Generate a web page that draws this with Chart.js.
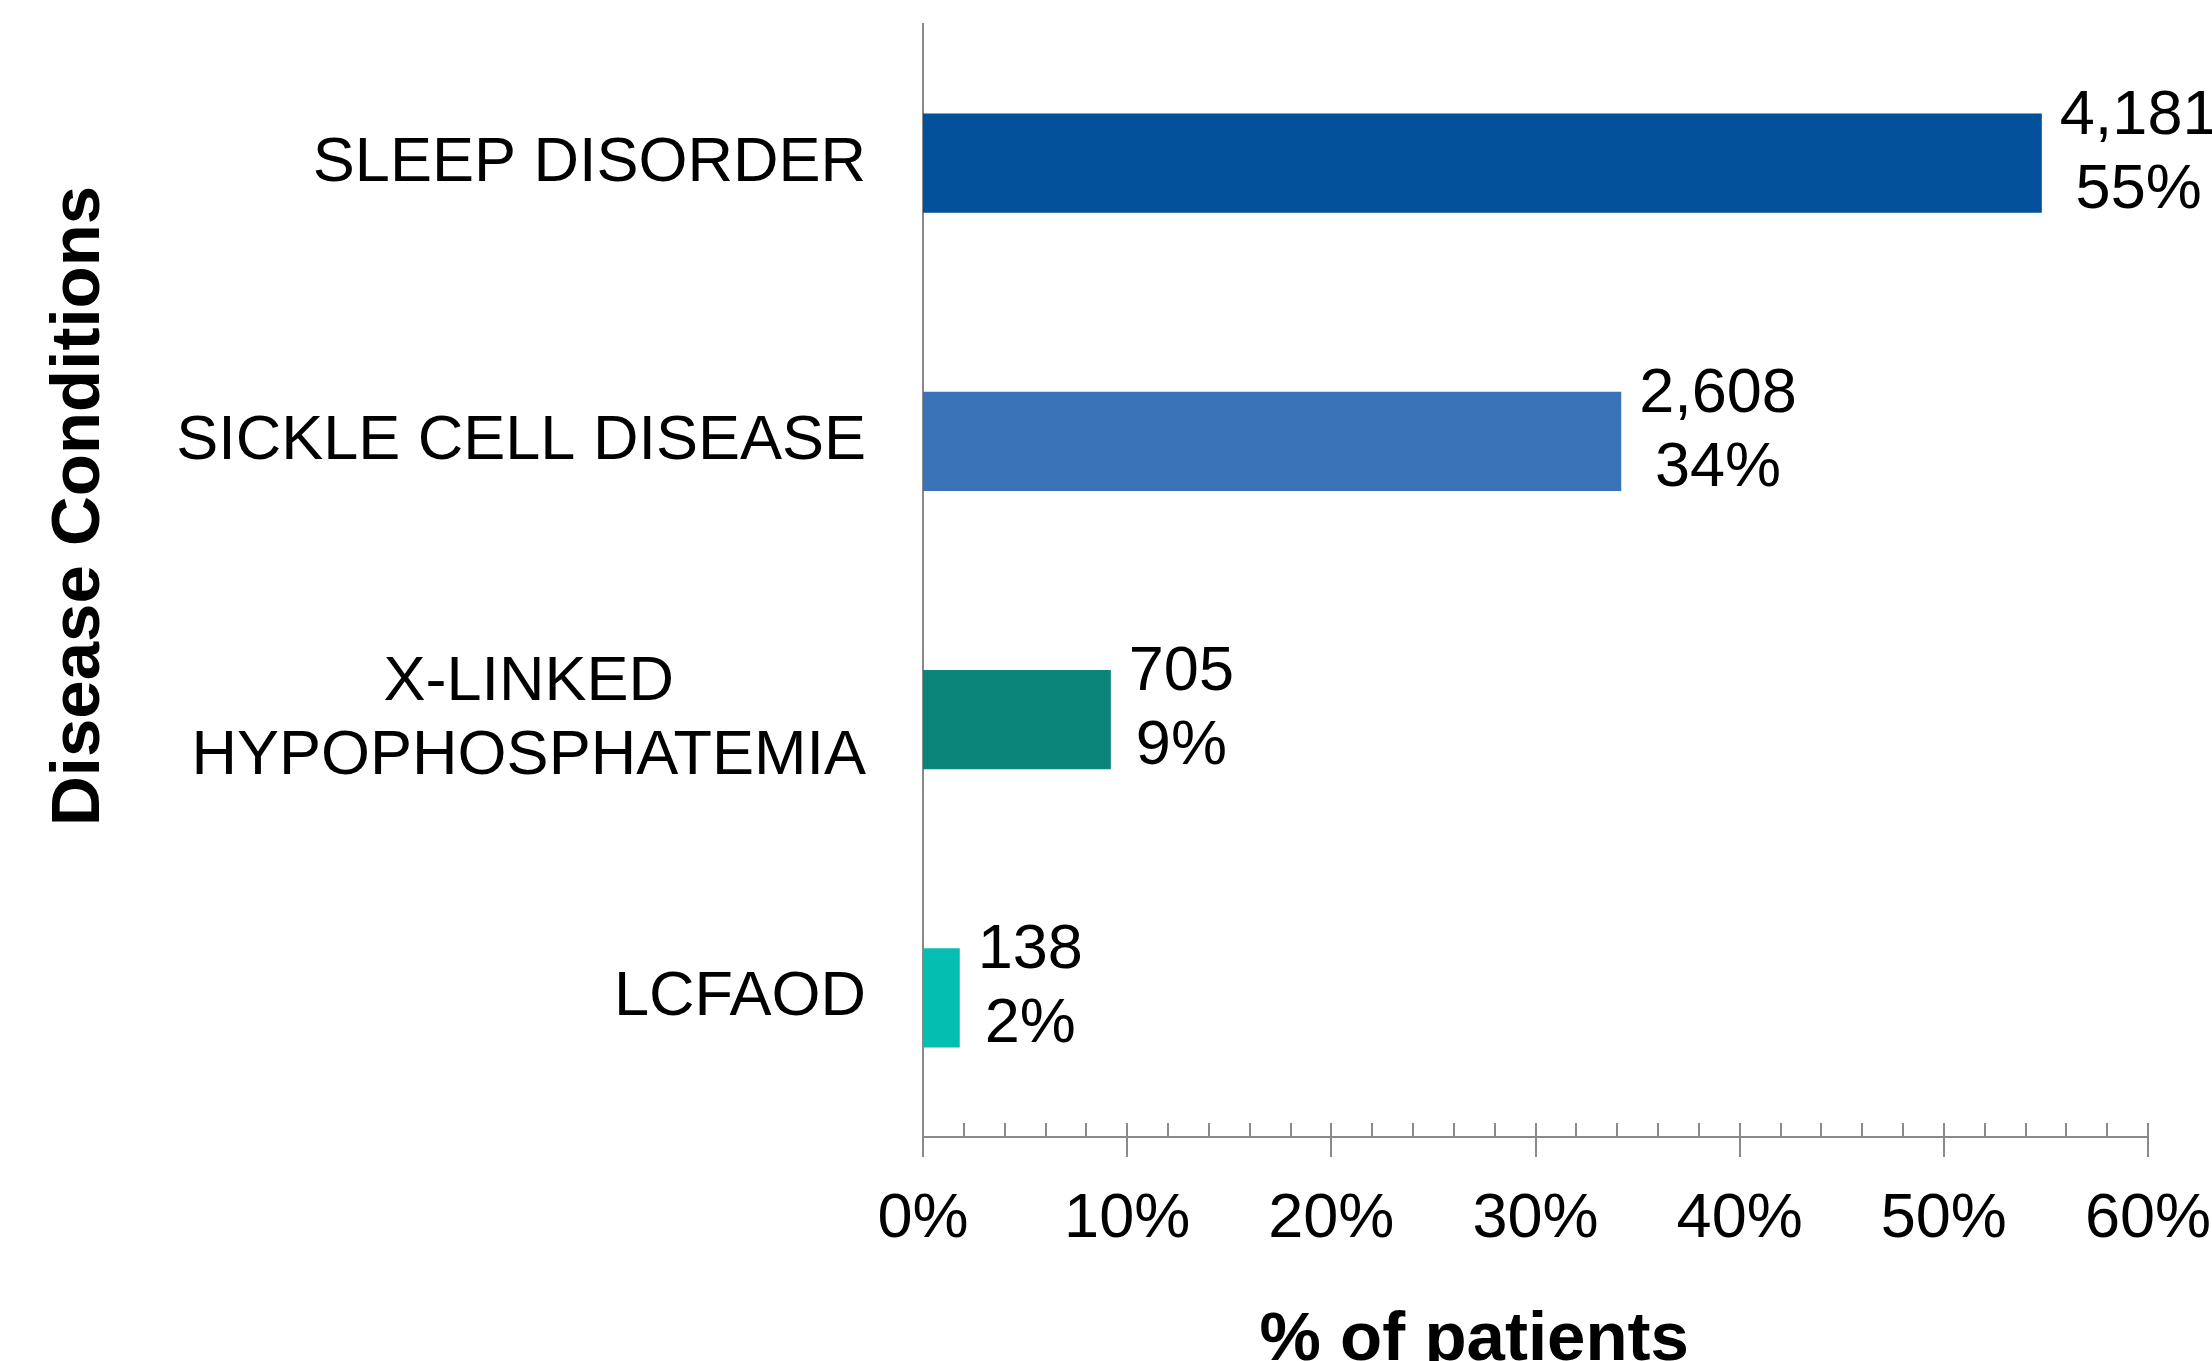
<!DOCTYPE html>
<html>
<head>
<meta charset="utf-8">
<title>Disease Conditions</title>
<script src="https://cdn.jsdelivr.net/npm/chart.js@4.4.1/dist/chart.umd.min.js"></script>
<style>
	html, body { margin: 0; padding: 0; background: #fff; }
	canvas { display: block; }
</style>
</head>
<body>
<canvas id="chart" width="2212" height="1361"></canvas>
<script>
var categories = [['SLEEP DISORDER'], ['SICKLE CELL DISEASE'], ['X-LINKED', 'HYPOPHOSPHATEMIA'], ['LCFAOD']];
var patientCounts = [4181, 2608, 705, 138];
var patientShares = [54.8, 34.2, 9.2, 1.8];
var xTickValues = [0, 10, 20, 30, 40, 50, 60];
var barColors = ['#03519b', '#3a72b8', '#0b847a', '#04bfb1'];

var FONT = '"Liberation Sans", Arial, Helvetica, sans-serif';
var AXIS_GREY = '#898989';

var CHART = {
	init: function ()
	{
		Chart.defaults.font.family = FONT;
		Chart.defaults.color = '#000';

		new Chart(document.getElementById('chart'), {
			type: 'bar',
			data: {
				labels: categories,
				datasets: [
					{
						data: patientShares,
						backgroundColor: barColors,
						borderWidth: 0,
						barPercentage: 1,
						categoryPercentage: 0.356
					}
				]
			},
			options: {
				indexAxis: 'y',
				responsive: false,
				devicePixelRatio: 1,
				animation: false,
				layout: { padding: { top: 24, right: 64, left: 0, bottom: 0 } },
				plugins: {
					legend: { display: false },
					tooltip: { enabled: false }
				},
				scales: {
					x: {
						min: xTickValues[0],
						max: xTickValues[xTickValues.length - 1],
						afterBuildTicks: function (scale) {
							scale.ticks = xTickValues.map(function (v) { return { value: v }; });
						},
						ticks: {
							padding: 37,
							font: { size: 63 },
							color: '#000',
							callback: function (v) { return v + '%'; }
						},
						grid: { display: false },
						border: { display: true, color: AXIS_GREY, width: 2 },
						afterFit: function (scale) {
							scale.height = 224;
							scale.paddingLeft = 0;
							scale.paddingRight = 0;
						}
					},
					y: {
						ticks: { display: false },
						grid: { display: false },
						border: { display: true, color: AXIS_GREY, width: 2 },
						afterFit: function (scale) { scale.width = 923; }
					}
				}
			},
			plugins: [this.extras]
		});
	},
	extras: {
		id: 'extras',
		afterDraw: function (chart)
		{
			var ctx = chart.ctx,
				area = chart.chartArea,
				xScale = chart.scales.x,
				yScale = chart.scales.y;

			ctx.save();

			// minor ticks every 2% above the axis, major ticks cross it
			ctx.strokeStyle = AXIS_GREY;
			ctx.lineWidth = 2;
			for (var v = xScale.min; v <= xScale.max; v += 2) {
				var px = Math.round(xScale.getPixelForValue(v));
				ctx.beginPath();
				ctx.moveTo(px, area.bottom - 14);
				ctx.lineTo(px, area.bottom + (v % 10 === 0 ? 20 : 0));
				ctx.stroke();
			}

			// category labels: block right aligned, lines centred
			ctx.fillStyle = '#000';
			ctx.font = '63px ' + FONT;
			ctx.textAlign = 'center';
			ctx.textBaseline = 'middle';
			categories.forEach(function (lines, i) {
				var y = yScale.getPixelForTick(i),
					widest = Math.max.apply(null, lines.map(function (l) { return ctx.measureText(l).width; })),
					cx = area.left - 57 - widest / 2,
					y0 = y - (lines.length - 1) * 74 / 2;
				lines.forEach(function (line, j) {
					ctx.fillText(line, cx, y0 + j * 74);
				});
			});

			// value labels: count over share
			var meta = chart.getDatasetMeta(0);
			meta.data.forEach(function (bar, i) {
				var count = patientCounts[i].toLocaleString('en-US'),
					share = Math.round(patientShares[i]) + '%',
					w = Math.max(ctx.measureText(count).width, ctx.measureText(share).width),
					cx = bar.x + 18 + w / 2,
					cy = bar.y - 10;
				ctx.fillText(count, cx, cy - 37);
				ctx.fillText(share, cx, cy + 37);
			});

			// axis titles
			ctx.font = 'bold 69px ' + FONT;
			ctx.textBaseline = 'alphabetic';
			ctx.fillText('% of patients', area.left + (area.right - area.left) * 0.45, chart.height - 1);

			ctx.translate(80, area.top + (area.bottom - area.top) * 0.433);
			ctx.rotate(-Math.PI / 2);
			ctx.textBaseline = 'middle';
			ctx.fillText('Disease Conditions', 0, 0);

			ctx.restore();
		}
	}
};

CHART.init();
</script>
</body>
</html>
